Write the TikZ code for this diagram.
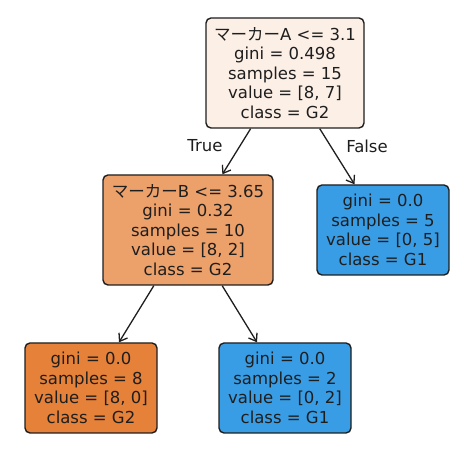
\documentclass[tikz,border=0pt]{standalone}
\usepackage{fontspec}
\setmainfont{DejaVu Sans}
\newfontfamily\jpfont{Noto Sans CJK JP}
\usetikzlibrary{arrows.meta}

\definecolor{rootfill}{RGB}{252,239,230}
\definecolor{splitfill}{RGB}{236,160,106}
\definecolor{orangeleaf}{RGB}{229,129,57}
\definecolor{blueleaf}{RGB}{57,157,229}
\definecolor{edgegray}{RGB}{30,30,30}

\tikzset{
    treenode/.style={draw=edgegray, line width=1.4pt, rounded corners=5pt,
        align=center, inner xsep=3pt, inner ysep=3pt, text=edgegray,
        font=\fontsize{16.5}{19.5}\selectfont},
    leafnode/.style={treenode, minimum width=132pt, minimum height=90pt},
    splitnode/.style={treenode, minimum height=110pt},
    edge/.style={-{Straight Barb[length=7pt,width=10pt]}, line width=1.3pt, edgegray},
    edgelabel/.style={text=edgegray, font=\fontsize{16.5}{19.5}\selectfont}
}

\begin{document}
\begin{tikzpicture}[x=1pt,y=1pt]

    \useasboundingbox (0,0) rectangle (464,454);

    \coordinate (c0) at (285,381);
    \coordinate (c1) at (188,224);
    \coordinate (c2) at (91,66);
    \coordinate (c3) at (285,66);
    \coordinate (c4) at (383,224);

    \node[splitnode, fill=rootfill, minimum width=158pt] (0) at (c0)
        {{\jpfont マーカー}A <= 3.1\\gini = 0.498\\samples = 15\\value = [8, 7]\\class = G2};
    \node[splitnode, fill=splitfill, minimum width=170pt] (1) at (c1)
        {{\jpfont マーカー}B <= 3.65\\gini = 0.32\\samples = 10\\value = [8, 2]\\class = G2};
    \node[leafnode, fill=orangeleaf] (2) at (c2)
        {gini = 0.0\\samples = 8\\value = [8, 0]\\class = G2};
    \node[leafnode, fill=blueleaf] (3) at (c3)
        {gini = 0.0\\samples = 2\\value = [0, 2]\\class = G1};
    \node[leafnode, fill=blueleaf] (4) at (c4)
        {gini = 0.0\\samples = 5\\value = [0, 5]\\class = G1};

    \draw[edge] (0) -- (1);
    \draw[edge] (0) -- (4);
    \draw[edge] (1) -- (2);
    \draw[edge] (1) -- (3);

    \node[edgelabel] (t) at (205,308) {True};
    \node[edgelabel] (f) at (367,308) {False};

\end{tikzpicture}
\end{document}
